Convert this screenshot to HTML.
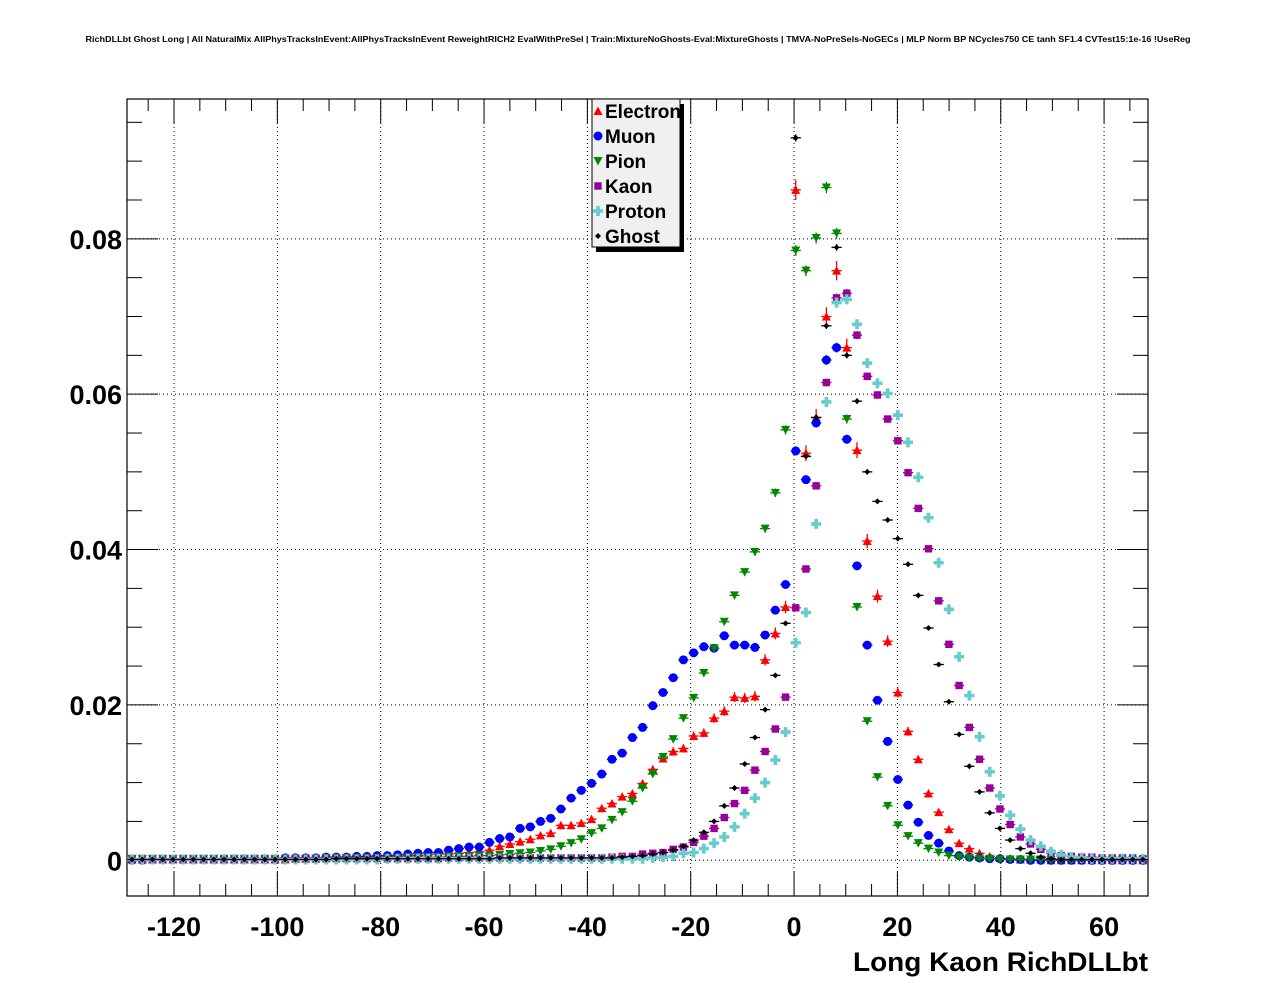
<!DOCTYPE html>
<html><head><meta charset="utf-8">
<style>
html,body{margin:0;padding:0;background:#fff;}
svg{display:block;font-family:"Liberation Sans",Arial,sans-serif;}
</style></head>
<body>
<svg id="chart" width="1276" height="996" viewBox="0 0 1276 996">
<rect x="0" y="0" width="1276" height="996" fill="#fff"/>
<text x="638" y="42" text-anchor="middle" font-size="8.6" font-weight="bold" textLength="1105" lengthAdjust="spacingAndGlyphs">RichDLLbt Ghost Long | All NaturalMix AllPhysTracksInEvent:AllPhysTracksInEvent ReweightRICH2 EvalWithPreSel | Train:MixtureNoGhosts-Eval:MixtureGhosts | TMVA-NoPreSels-NoGECs | MLP Norm BP NCycles750 CE tanh SF1.4 CVTest15:1e-16 !UseReg</text>
<g id="grid"></g>
<g id="axes"></g>
<g id="marks"></g>
<g id="legend"></g>
<text x="1148" y="971" text-anchor="end" font-size="27" font-weight="bold" textLength="295" lengthAdjust="spacingAndGlyphs">Long Kaon RichDLLbt</text>
</svg>
<script>
// ---- chart data (100 bins spanning the x axis) ----
const xMin = -129.1, xMax = 68.5, nBins = 100;
const yMin = -0.0046, yMax = 0.098;
const xTicks = [-120,-100,-80,-60,-40,-20,0,20,40,60];
const xTickLabels = ["-120","-100","-80","-60","-40","-20","0","20","40","60"];
const yTicks = [0,0.02,0.04,0.06,0.08];
const yTickLabels = ["0","0.02","0.04","0.06","0.08"];
const seriesNames = ["Electron","Muon","Pion","Kaon","Proton","Ghost"];

const electron = [0.0001,0.0001,0.0001,0.0001,0.0001,0.0001,0.0001,0.0001,0.0001,0.0001,0.0001,0.0001,0.0001,0.0001,0.0001,0.0001,
0.0002,0.0002,0.0002,0.0003,0.0003,0.0003,0.0004,0.0004,0.0004,0.0005,0.0005,0.0006,0.0006,0.0007,0.0008,0.0008,0.0009,0.001,0.0011,
0.0013,0.0018,0.0021,0.0024,0.0027,0.0032,0.0035,0.0045,0.0045,0.0048,0.0053,0.0067,0.0073,0.0082,0.0086,0.0099,0.0117,0.0131,0.014,0.0144,0.016,0.0164,0.0183,0.0192,0.021,0.0209,0.0211,0.0258,0.0292,0.0326,
0.0863,0.0524,0.057,0.07,0.0759,0.066,0.0528,0.0411,0.034,0.0282,0.0216,0.0166,0.013,0.0086,0.0062,0.004,0.0022,0.0015,0.0009,0.0005,0.0003,0.0002,
0.0001,0.0001,0.0001,0,0,0,0,0,0,0,0,0,0];
const muon = [0,0,0.0001,0.0001,0.0001,0.0001,0.0001,0.0001,0.0001,0.0002,0.0002,0.0002,0.0002,0.0002,0.0002,0.0003,0.0003,0.0003,0.0003,0.0004,0.0004,0.0004,0.0005,0.0005,0.0006,0.0006,0.0007,0.0008,0.0009,
0.001,0.001,0.0013,0.0015,0.0017,0.0017,0.0023,0.0028,0.003,0.0041,0.0043,0.005,0.0054,0.0066,0.008,0.009,0.0099,0.0111,0.013,0.0138,0.0158,0.0171,0.0199,0.0216,0.0235,0.0258,0.0267,0.0275,0.0273,0.0289,0.0277,0.0277,0.0274,0.029,0.0322,0.0355,
0.0527,0.049,0.0563,0.0644,0.066,0.0542,0.0379,0.0277,0.0206,0.0153,0.0104,0.0071,0.0049,0.0032,0.0022,0.0012,0.0006,
0.0004,0.0003,0.0002,0.0002,0.0001,0.0001,0,0,0,0,0,0,0,0,0,0,0,0];
const pion = [0.0002,0.0002,0.0002,0.0002,0.0002,0.0002,0.0002,0.0002,0.0002,0.0002,0.0002,0.0002,0.0002,0.0002,0.0002,0.0002,0.0002,0.0002,0.0002,
0.0003,0.0003,0.0003,0.0003,0.0003,0.0003,0.0003,0.0003,0.0004,0.0004,0.0004,0.0004,0.0005,0.0005,0.0005,0.0006,0.0006,0.0007,
0.0008,0.0009,0.001,0.0012,0.0014,0.0018,0.0022,0.0027,0.0035,0.0041,0.0052,0.0062,0.0076,0.0093,0.0111,0.0133,0.0156,0.0183,0.0209,0.0241,0.0273,0.0307,0.0341,0.0371,0.0397,0.0427,0.0473,
0.0554,0.0785,0.0759,0.0801,0.0866,0.0807,0.0568,0.0326,0.0179,0.0107,0.007,0.0045,0.0031,0.0022,0.0015,0.001,0.0006,0.0004,0.0003,0.0002,0.0002,0.0001,
0.0001,0.0001,0.0001,0.0001,0,0,0,0,0,0,0,0,0,0];
const kaon = [0.0001,0.0001,0.0001,0.0001,0.0001,0.0001,0.0001,0.0001,0.0001,0.0001,0.0001,0.0001,0.0001,0.0001,0.0001,
0.0002,0.0002,0.0002,0.0002,0.0002,0.0002,0.0002,0.0002,0.0002,0.0002,0.0002,0.0002,0.0002,0.0002,0.0002,0.0002,
0.0003,0.0003,0.0003,0.0003,0.0003,0.0003,0.0003,0.0003,0.0003,0.0003,0.0003,0.0003,0.0003,0.0003,0.0003,0.0003,
0.0004,0.0005,0.0005,0.0008,0.0009,0.001,0.0014,0.0017,0.0023,0.0031,0.0041,0.0055,0.0073,0.009,0.0116,0.014,0.0169,
0.021,0.0325,0.0375,0.0482,0.0615,0.0724,0.073,0.0676,0.0623,0.0599,0.0568,0.054,0.0499,0.0453,0.0401,0.0334,0.0278,0.0225,0.0171,0.013,0.0093,0.0066,0.0046,0.003,0.0021,0.0014,0.0009,0.0006,0.0005,0.0004,0.0004,0.0003,0.0003,0.0003,0.0003,0.0002];
const proton = [0.0001,0.0001,0.0001,0.0001,0.0001,0.0001,0.0001,0.0001,0.0001,0.0001,0.0001,0.0001,0.0001,0.0001,0.0001,0.0001,0.0001,0.0001,0.0001,0.0001,0.0001,0.0001,0.0001,0.0001,0.0001,
0.0002,0.0002,0.0002,0.0002,0.0002,0.0002,0.0002,0.0002,0.0002,0.0002,0.0002,0.0002,0.0002,0.0002,0.0002,0.0002,0.0002,0.0002,0.0002,0.0002,0.0002,0.0002,0.0002,0.0002,0.0002,0.0002,
0.0003,0.0004,0.0005,0.0009,0.001,0.0015,0.0022,0.003,0.0043,0.006,0.008,0.01,0.0129,
0.0165,0.028,0.0319,0.0433,0.059,0.0718,0.0722,0.069,0.064,0.0614,0.0601,0.0573,0.0538,0.0493,0.0441,0.0383,0.0323,0.0262,0.0212,0.0159,0.0114,0.0083,0.0058,0.004,0.0026,0.0018,0.0011,0.0007,0.0004,0.0003,0.0002,0.0002,0.0002,0.0002,0.0002,0.0002];
const ghost = [0.0001,0.0001,0.0001,0.0001,0.0001,0.0001,0.0001,0.0001,0.0001,0.0001,0.0001,0.0001,0.0001,0.0001,0.0001,0.0001,0.0001,0.0001,0.0001,0.0001,
0.0002,0.0002,0.0002,0.0002,0.0002,0.0002,0.0002,0.0002,0.0002,0.0002,0.0002,0.0002,0.0002,0.0002,0.0002,0.0002,
0.0003,0.0003,0.0003,0.0003,0.0003,0.0003,0.0003,0.0003,0.0003,0.0003,0.0003,0.0003,
0.0004,0.0005,0.0006,0.0008,0.001,0.0013,0.0018,0.0026,0.0036,0.005,0.007,0.0093,0.0124,0.0158,0.0194,0.0238,0.0305,
0.093,0.052,0.057,0.0688,0.0789,0.065,0.0591,0.05,0.0462,0.0438,0.0414,0.0381,0.0341,0.0299,0.0252,0.0204,0.0162,0.0121,0.0088,0.0061,0.0041,0.0026,0.0015,0.0009,0.0004,0.0002,
0.0001,0.0001,0.0001,0.0001,0.0001,0.0001,0.0001,0.0001,0.0001];

// ---- layout ----
const PL = 127, PR = 1148, PT = 99, PB = 896;
const NS = "http://www.w3.org/2000/svg";
function xS(v){ return PL + (v - xMin) / (xMax - xMin) * (PR - PL); }
function yS(v){ return PB - (v - yMin) / (yMax - yMin) * (PB - PT); }
function mk(tag, attrs, parent){
  const e = document.createElementNS(NS, tag);
  for (const k in attrs) e.setAttribute(k, attrs[k]);
  parent.appendChild(e);
  return e;
}
const gGrid = document.getElementById('grid');
const gAxes = document.getElementById('axes');
const gMarks = document.getElementById('marks');
const gLeg = document.getElementById('legend');

// grid
xTicks.forEach(function(t){
  const l = mk('line', {x1:xS(t), x2:xS(t), y1:PT, y2:PB, stroke:'#000', 'stroke-width':1, 'stroke-dasharray':'1,3'}, gGrid);
  
  
});
yTicks.forEach(function(t){
  const l = mk('line', {x1:PL, x2:PR, y1:yS(t), y2:yS(t), stroke:'#000', 'stroke-width':1, 'stroke-dasharray':'1,3'}, gGrid);
  
  
});

// frame
const fr = mk('rect', {x:PL, y:PT, width:PR-PL, height:PB-PT, fill:'none', stroke:'#000', 'stroke-width':1.2}, gAxes);



// x ticks (major 20, minor 5)
for (let v = -125; v <= 65; v += 5){
  const major = (v % 20 === 0);
  const len = major ? 24 : 12;
  const t1 = mk('line', {x1:xS(v), x2:xS(v), y1:PB, y2:PB-len, stroke:'#000', 'stroke-width':1}, gAxes);
  
  
  const t2 = mk('line', {x1:xS(v), x2:xS(v), y1:PT, y2:PT+len, stroke:'#000', 'stroke-width':1}, gAxes);
  
  
}
xTicks.forEach(function(t, i){
  const tx = mk('text', {x:xS(t), y:936, 'text-anchor':'middle', 'font-size':27, 'font-weight':'bold'}, gAxes);
  tx.textContent = xTickLabels[i];
  
  
});
// y ticks (major 0.02, minor 0.005)
for (let k = 0; k <= 19; k++){
  const v = k * 0.005;
  const major = (k % 4 === 0);
  const len = major ? 31 : 15;
  const t1 = mk('line', {x1:PL, x2:PL+len, y1:yS(v), y2:yS(v), stroke:'#000', 'stroke-width':1}, gAxes);
  
  
  const t2 = mk('line', {x1:PR, x2:PR-len, y1:yS(v), y2:yS(v), stroke:'#000', 'stroke-width':1}, gAxes);
  
  
}
yTicks.forEach(function(t, i){
  const tx = mk('text', {x:122, y:yS(t)+10, 'text-anchor':'end', 'font-size':27, 'font-weight':'bold'}, gAxes);
  tx.textContent = yTickLabels[i];
  
  
});

// markers
const colors = ['#ff0000','#0000ff','#008800','#990099','#66cccc','#000000'];
const allSeries = [electron, muon, pion, kaon, proton, ghost];
const errScale = [0.0045, 0.0025, 0.0025, 0.002, 0.002, 0.0015];
function marker(kind, cx, cy, col, parent){
  let e;
  if (kind === 0) e = mk('polygon', {points:(cx-4.5)+','+(cy+4)+' '+(cx+4.5)+','+(cy+4)+' '+cx+','+(cy-4.5), fill:col}, parent);
  else if (kind === 1) e = mk('circle', {cx:cx, cy:cy, r:4.5, fill:col}, parent);
  else if (kind === 2) e = mk('polygon', {points:(cx-4.5)+','+(cy-4)+' '+(cx+4.5)+','+(cy-4)+' '+cx+','+(cy+4.5), fill:col}, parent);
  else if (kind === 3) e = mk('rect', {x:cx-3.7, y:cy-3.7, width:7.4, height:7.4, fill:col}, parent);
  else if (kind === 4) e = mk('path', {d:'M'+(cx-1.8)+' '+(cy-5)+'h3.6v3.2h3.2v3.6h-3.2v3.2h-3.6v-3.2h-3.2v-3.6h3.2z', fill:col}, parent);
  else e = mk('polygon', {points:cx+','+(cy-3)+' '+(cx+3)+','+cy+' '+cx+','+(cy+3)+' '+(cx-3)+','+cy, fill:col}, parent);
  return e;
}
const binW = (xMax - xMin) / nBins;
allSeries.forEach(function(data, s){
  const g = mk('g', {}, gMarks);
  
  
  data.forEach(function(v, i){
    const xc = xMin + binW * (i + 0.5);
    const px = xS(xc), py = yS(v);
    const eh = mk('line', {x1:xS(xc - binW/2), x2:xS(xc + binW/2), y1:py, y2:py, stroke:colors[s], 'stroke-width':1.3}, g);
    
    
    const err = errScale[s] * Math.sqrt(v);
    const ev = mk('line', {x1:px, x2:px, y1:yS(v+err), y2:yS(v-err), stroke:colors[s], 'stroke-width':1.3}, g);
    
    
    const m = marker(s, px, py, colors[s], g);
    
    
  });
});

// legend
const sh = mk('rect', {x:596, y:104, width:88, height:148, fill:'#000'}, gLeg);


const lb = mk('rect', {x:592, y:99, width:88, height:148, fill:'#f0f0f0', stroke:'#000', 'stroke-width':1}, gLeg);


seriesNames.forEach(function(n, s){
  const y = 111 + s * 25;
  const m = marker(s, 598, y, colors[s], gLeg);
  
  
  const t = mk('text', {x:605, y:y+7, 'font-size':19, 'font-weight':'bold'}, gLeg);
  t.textContent = n;
  
  
});
</script>
</body></html>
